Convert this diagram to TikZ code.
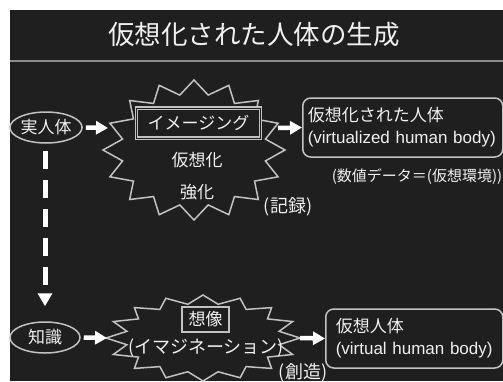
\documentclass[tikz,border=0pt]{standalone}
\usepackage{fontspec}
\setmainfont{Noto Sans CJK JP}
\newfontfamily\latinfont{Liberation Sans}
\usetikzlibrary{arrows.meta,shapes.geometric,calc}
\definecolor{bgdark}{HTML}{1F1F1F}
\definecolor{linegray}{HTML}{C2C2C2}
\definecolor{sepgray}{HTML}{8C8C8C}
\definecolor{txtwhite}{HTML}{F0F0F0}
\tikzset{
  sepline/.style={draw=sepgray, line width=2pt},
  titletext/.style={text=txtwhite, font=\fontsize{26.5pt}{30pt}\selectfont, inner sep=0pt},
  lbl/.style={text=txtwhite, font=\fontsize{17pt}{22pt}\selectfont, inner sep=0pt},
  biglbl/.style={text=txtwhite, font=\fontsize{18pt}{22pt}\selectfont, inner sep=0pt},
  smalllbl/.style={text=txtwhite, font=\fontsize{15pt}{18pt}\selectfont, inner sep=0pt},
  oval/.style={ellipse, draw=linegray, line width=1.5pt, text=txtwhite, font=\fontsize{17pt}{20pt}\selectfont, inner sep=0pt},
  burstline/.style={draw=linegray, line width=1.5pt, line join=miter},
  arr/.style={draw=white, line width=4.5pt, -{Triangle[length=12pt,width=13pt]}},
  dasharr/.style={draw=white, line width=5pt, dash pattern=on 18pt off 11pt, -{Triangle[length=13pt,width=14pt]}},
  rbox/.style={draw=linegray, line width=1.5pt, rounded corners=8pt, text=txtwhite, align=left, font=\fontsize{17pt}{22pt}\selectfont, inner xsep=5pt, inner ysep=0pt},
  imgbox/.style={draw=linegray, double=bgdark, double distance=1pt, line width=1.3pt, fill=bgdark, text=txtwhite, font=\fontsize{17pt}{20pt}\selectfont, inner sep=0pt, minimum width=124pt, minimum height=30pt},
  sqbox/.style={draw=linegray, line width=2pt, fill=bgdark, text=txtwhite, font=\fontsize{17pt}{20pt}\selectfont, inner sep=0pt, minimum width=47pt, minimum height=25pt}
}
\begin{document}
\begin{tikzpicture}[x=1pt,y=-1pt]
\useasboundingbox (0,0) rectangle (503,381);
\fill[white] (0,0) rectangle (503,381);
\fill[bgdark] (10,10) rectangle (503,381);
\draw[sepline] (10,61) -- (503,61);
\node[titletext] (title) at (254,35) {仮想化された人体の生成};

% starbursts
\draw[burstline] plot[samples at={0,...,31}, variable=\t] ({194+91*(1-0.2*mod(\t,2))*cos(90+11.25*\t)}, {150-70*(1-0.2*mod(\t,2))*sin(90+11.25*\t)}) -- cycle;
\draw[burstline] plot[samples at={0,...,31}, variable=\t] ({203+97*(1-0.2*mod(\t,2))*cos(90+11.25*\t)}, {338-43*(1-0.2*mod(\t,2))*sin(90+11.25*\t)}) -- cycle;
\coordinate (b1w) at (108,128);
\coordinate (b1e) at (278,128);
\coordinate (b2w) at (107,338);
\coordinate (b2e) at (300,338);

% left column
\node[oval, minimum width=68pt, minimum height=31pt] (real) at (46,127.5) {実人体};
\node[oval, minimum width=70pt, minimum height=31pt] (know) at (45,337.5) {知識};

% inside burst 1
\node[imgbox] (imaging) at (198.5,123) {イメージング};
\node[lbl] (virt) at (197,160) {仮想化};
\node[lbl] (enh) at (197,192) {強化};
\node[biglbl] (rec) at (288,207) {(記録)};

% inside burst 2
\node[sqbox] (imag) at (205.5,319.5) {想像};
\node[biglbl] (imagkana) at (206,348) {(イマジネーション)};
\node[biglbl] (create) at (303,373) {(創造)};

% right boxes
\node[rbox, text width=190pt, minimum height=59pt, anchor=west] (vbody) at (302,127.5) {仮想化された人体\\{\latinfont (virtualized human body)}};
\node[smalllbl] (data) at (417,177) {(数値データ＝(仮想環境))};
\node[rbox, inner xsep=10pt, text width=157pt, minimum height=59pt, anchor=west] (vhb) at (325,338.5) {仮想人体\\{\latinfont (virtual human body)}};

% connectors
\draw[arr] ([xshift=3pt]real.east) -- (b1w);
\draw[arr] (b1e) -- (vbody.west);
\draw[arr] ([xshift=3pt]know.east) -- (b2w);
\draw[arr] (b2e) -- (vhb.west);
\draw[dasharr, shorten <=7pt, shorten >=15pt] (real.south -| know.north) -- (know.north);
\end{tikzpicture}
\end{document}
